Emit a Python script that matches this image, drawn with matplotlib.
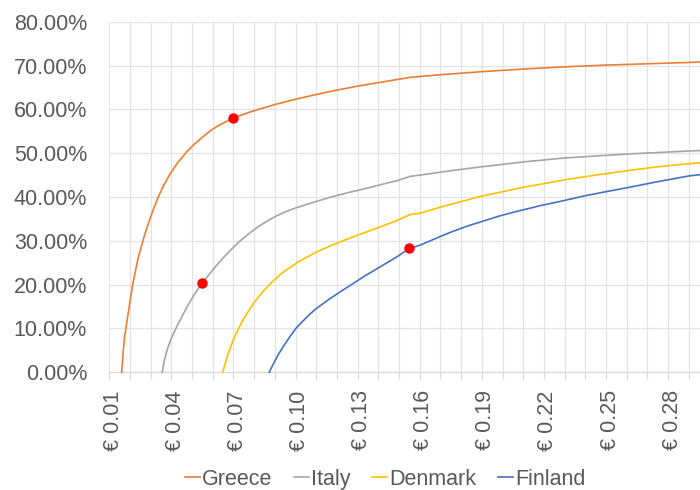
import matplotlib
matplotlib.use("Agg")
import matplotlib.pyplot as plt
import matplotlib.transforms as mtransforms
from matplotlib.ticker import FuncFormatter, MultipleLocator

plt.rcParams['font.family'] = ['Liberation Sans', 'DejaVu Sans']

# ── Data (price per unit in €, rate in %) ─────────────────────
greece_price = [0.0160, 0.0164, 0.0168, 0.0174, 0.0181, 0.0190, 0.0200, 0.0213, 0.0238,
                0.0266, 0.0282, 0.0300, 0.0318, 0.0337, 0.0360, 0.0393, 0.0430, 0.0474,
                0.0510, 0.0554, 0.0585, 0.0620, 0.0660, 0.0700, 0.0750, 0.0800, 0.0900,
                0.1000, 0.1100, 0.1200, 0.1300, 0.1400, 0.1490, 0.1553, 0.1700, 0.1900,
                0.2100, 0.2300, 0.2500, 0.2700, 0.2900, 0.2954]
greece_rate = [0, 2.6, 5.1, 8.0, 10.2, 13.0, 16.1, 20.0, 25.8,
               30.6, 33.0, 35.5, 37.8, 40.0, 42.4, 45.2, 47.8, 50.3,
               52.0, 53.8, 55.0, 56.1, 57.1, 58.0, 58.9, 59.7, 61.1,
               62.3, 63.4, 64.4, 65.3, 66.1, 66.8, 67.3, 67.9, 68.6,
               69.2, 69.7, 70.1, 70.4, 70.7, 70.8]

italy_price = [0.0356, 0.0365, 0.0380, 0.0400, 0.0430, 0.0474, 0.0510, 0.0548, 0.0580,
               0.0611, 0.0650, 0.0691, 0.0730, 0.0771, 0.0810, 0.0852, 0.0900, 0.0950,
               0.1000, 0.1094, 0.1180, 0.1263, 0.1335, 0.1410, 0.1488, 0.1553, 0.1601,
               0.1750, 0.1899, 0.2100, 0.2298, 0.2600, 0.2900, 0.2954]
italy_rate = [0, 2.5, 5.2, 7.8, 10.8, 14.8, 17.7, 20.3, 22.2,
              24.0, 26.1, 28.1, 29.9, 31.5, 32.9, 34.2, 35.5, 36.6,
              37.5, 38.9, 40.1, 41.1, 41.9, 42.8, 43.7, 44.7, 45.0,
              46.0, 46.9, 48.0, 48.9, 49.8, 50.5, 50.6]

denmark_price = [0.0648, 0.0660, 0.0675, 0.0695, 0.0720, 0.0750, 0.0799, 0.0840, 0.0876,
                 0.0930, 0.1013, 0.1099, 0.1180, 0.1255, 0.1335, 0.1410, 0.1488, 0.1553,
                 0.1601, 0.1700, 0.1827, 0.1899, 0.2000, 0.2100, 0.2298, 0.2450, 0.2600,
                 0.2750, 0.2900, 0.2954]
denmark_rate = [0, 2.0, 4.3, 6.9, 9.6, 12.3, 15.9, 18.3, 20.1,
                22.5, 25.2, 27.4, 29.1, 30.5, 31.9, 33.2, 34.6, 36.0,
                36.3, 37.7, 39.3, 40.2, 41.2, 42.2, 43.9, 45.0, 46.0,
                46.9, 47.6, 47.8]

finland_price = [0.0873, 0.0885, 0.0900, 0.0920, 0.0945, 0.0975, 0.1005, 0.1040, 0.1070,
                 0.1099, 0.1160, 0.1223, 0.1263, 0.1335, 0.1410, 0.1488, 0.1548, 0.1601,
                 0.1680, 0.1746, 0.1820, 0.1899, 0.1980, 0.2068, 0.2180, 0.2298, 0.2400,
                 0.2498, 0.2600, 0.2750, 0.2900, 0.2954]
finland_rate = [0, 1.2, 2.6, 4.3, 6.2, 8.3, 10.2, 11.9, 13.3,
                14.5, 16.6, 18.6, 19.8, 22.0, 24.1, 26.3, 28.2, 29.0,
                30.6, 31.9, 33.2, 34.4, 35.6, 36.7, 38.0, 39.2, 40.3,
                41.2, 42.1, 43.5, 44.8, 45.1]

dot_price = [0.0700, 0.0548, 0.1548]
dot_rate = [58.0, 20.3, 28.3]

xtick_vals = [0.01, 0.04, 0.07, 0.10, 0.13, 0.16, 0.19, 0.22, 0.25, 0.28]

# ── Plot ───────────────────────────────────────────────────────
GREY_TXT = '#595959'
GRID = '#E4E4E4'
FS = 15.5

fig = plt.figure(figsize=(7.0, 4.9), dpi=100)
ax = fig.add_axes([0.1561, 0.2402, 0.8439, 0.7155])

series = [
    ('Greece', greece_price, greece_rate, '#ED7D31'),
    ('Italy', italy_price, italy_rate, '#A5A5A5'),
    ('Denmark', denmark_price, denmark_rate, '#FFC000'),
    ('Finland', finland_price, finland_rate, '#4472C4'),
]
for name, xs, ys, col in series:
    ax.plot(xs, [v / 100 for v in ys], color=col, lw=1.2, label=name,
            solid_joinstyle='round', clip_on=False, zorder=3)

ax.plot(dot_price, [v / 100 for v in dot_rate], 'o', color='#FF0000',
        markersize=7.5, markeredgewidth=0, zorder=4)

ax.set_xlim(0.01, 0.2954)
ax.set_ylim(0, 0.8)

ax.yaxis.set_major_locator(MultipleLocator(0.1))
ax.yaxis.set_major_formatter(FuncFormatter(lambda v, _: f'{v * 100:.2f}%'))
ax.xaxis.set_minor_locator(MultipleLocator(0.01))
ax.set_xticks(xtick_vals)
ax.set_xticklabels([f'€ {v:.2f}' for v in xtick_vals], rotation=90)

ax.grid(True, which='both', color=GRID, lw=0.9)
ax.set_axisbelow(True)
for s in ['left', 'right', 'top']:
    ax.spines[s].set_visible(False)
ax.spines['bottom'].set_color('#D9D9D9')
ax.spines['bottom'].set_linewidth(0.9)

ax.tick_params(axis='y', length=0, pad=16, labelsize=FS, labelcolor=GREY_TXT)
ax.tick_params(axis='x', which='both', length=5, color='#D9D9D9', width=0.9,
               pad=8, labelsize=FS, labelcolor=GREY_TXT)

# shift rotated labels a little right, as in the original
offset = mtransforms.ScaledTranslation(4 / 100, 0, fig.dpi_scale_trans)
for lab in ax.get_xticklabels():
    lab.set_transform(lab.get_transform() + offset)

leg = fig.legend(loc='center', bbox_to_anchor=(0.55, 0.022), ncol=4, frameon=False,
                 fontsize=FS, handlelength=0.7, handletextpad=0.1,
                 columnspacing=1.0, borderaxespad=0)
for t in leg.get_texts():
    t.set_color(GREY_TXT)

fig.savefig('out.png', dpi=100, facecolor='white')
